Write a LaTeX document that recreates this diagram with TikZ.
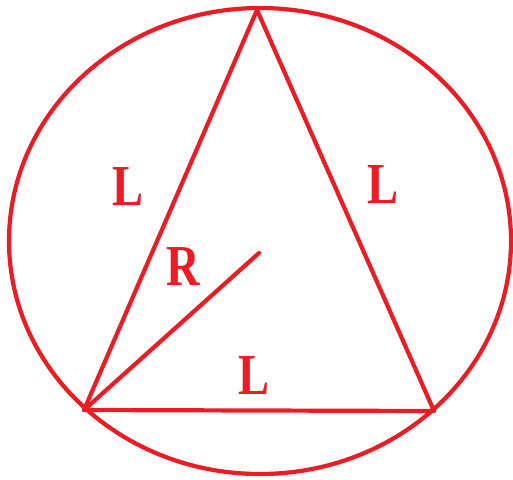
\documentclass[tikz,border=0pt]{standalone}
\usepackage{fontspec}
\setmainfont{Liberation Serif}
\definecolor{figred}{RGB}{237,28,36}
\begin{document}
\begin{tikzpicture}[x=1pt,y=-1pt,
  redline/.style={draw=figred,line width=4.2pt,line join=round,line cap=round},
  lbl/.style={text=figred,font=\fontsize{58}{58}\selectfont\bfseries,inner sep=0pt}]
\useasboundingbox (0,0) rectangle (513,479);
\coordinate (O) at (260,241);
\draw[redline] (O) ellipse [x radius=251,y radius=233];
\coordinate (A) at (257,10);
\coordinate (B) at (84,410);
\coordinate (C) at (434,411);
\coordinate (M) at (259,253);
\draw[redline] (A) -- (B) -- (C) -- cycle;
\draw[redline] (B) -- (M);
\node[lbl] (l1) at (128,187) {\scalebox{0.8}[1]{L}};
\node[lbl] (l2) at (383,185) {\scalebox{0.8}[1]{L}};
\node[lbl] (r) at (183,267) {\scalebox{0.8}[1]{R}};
\node[lbl] (l3) at (254,376) {\scalebox{0.8}[1]{L}};
\end{tikzpicture}
\end{document}
